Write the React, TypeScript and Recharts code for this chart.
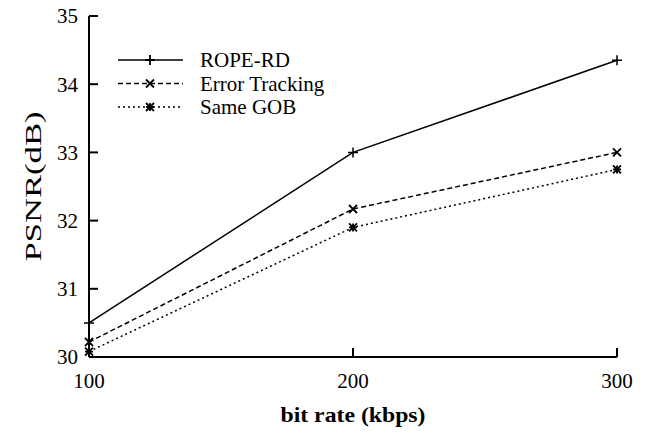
import React from "react";
import { LineChart, Line, XAxis, YAxis, Legend } from "recharts";

const rates = [100, 200, 300];
const ropeRd = [30.5, 33.0, 34.35];
const errorTracking = [30.22, 32.17, 33.0];
const sameGob = [30.08, 31.9, 32.75];
const xTicks = [100, 200, 300];
const yTicks = [30, 31, 32, 33, 34, 35];

const FONT = "Liberation Serif";

const chartData = rates.map((rate, i) => ({
    rate,
    rope: ropeRd[i],
    track: errorTracking[i],
    gob: sameGob[i],
}));

const plusPath = (x: number, y: number, s: number) =>
    `M${x - s},${y}L${x + s},${y}M${x},${y - s}L${x},${y + s}`;
const crossPath = (x: number, y: number, s: number) =>
    `M${x - s},${y - s}L${x + s},${y + s}M${x - s},${y + s}L${x + s},${y - s}`;

const PlusDot = (props: any) => (
    <path key={`p-${props.index}`} d={plusPath(props.cx, props.cy, 5)} stroke="#000" strokeWidth={1.5} fill="none" />
);
const CrossDot = (props: any) => (
    <path key={`c-${props.index}`} d={crossPath(props.cx, props.cy, 4)} stroke="#000" strokeWidth={1.8} fill="none" />
);
const StarDot = (props: any) => (
    <path
        key={`s-${props.index}`}
        d={crossPath(props.cx, props.cy, 4) + plusPath(props.cx, props.cy, 4)}
        stroke="#000"
        strokeWidth={1.8}
        fill="none"
    />
);

const LeftTick = (props: any) => {
    const { x, y, payload } = props;
    return (
        <g>
            <line x1={x + 11} x2={x + 20} y1={y} y2={y} stroke="#000" strokeWidth={2} />
            <text x={x} y={y} dy="0.35em" textAnchor="end" fontFamily={FONT} fontSize={21} fill="#000">
                {payload.value}
            </text>
        </g>
    );
};

const BottomTick = (props: any) => {
    const { x, y, payload } = props;
    return (
        <g>
            <line x1={x} x2={x} y1={y - 16} y2={y - 25} stroke="#000" strokeWidth={2} />
            <text x={x} y={y} dy="0.71em" textAnchor="middle" fontFamily={FONT} fontSize={21} fill="#000">
                {payload.value}
            </text>
        </g>
    );
};

const RightTick = (props: any) => (
    <line x1={props.x} x2={props.x - 9} y1={props.y} y2={props.y} stroke="#000" strokeWidth={2} />
);
const TopTick = (props: any) => (
    <line x1={props.x} x2={props.x} y1={props.y} y2={props.y + 9} stroke="#000" strokeWidth={2} />
);

const legendRows = [
    { name: "ROPE-RD", dash: undefined, mark: plusPath },
    { name: "Error Tracking", dash: "5 3", mark: crossPath },
    { name: "Same GOB", dash: "2 3", mark: (x: number, y: number, s: number) => crossPath(x, y, s) + plusPath(x, y, s) },
];

const renderLegend = () => (
    <svg width={230} height={80}>
        {legendRows.map((row, i) => {
            const y = 12 + i * 23.5;
            return (
                <g key={row.name}>
                    <line x1={6} x2={71} y1={y} y2={y} stroke="#000" strokeWidth={1.5} strokeDasharray={row.dash} />
                    <path d={row.mark(38, y, i === 0 ? 5 : 4)} stroke="#000" strokeWidth={1.8} fill="none" />
                    <text x={88} y={y} dy="0.35em" fontFamily={FONT} fontSize={21} fill="#000">
                        {row.name}
                    </text>
                </g>
            );
        })}
    </svg>
);

const YLabel = (props: any) => {
    const { viewBox } = props;
    const cx = viewBox.x + 33;
    const cy = viewBox.y + viewBox.height / 2;
    return (
        <text
            x={cx}
            y={cy}
            transform={`rotate(-90 ${cx} ${cy})`}
            textAnchor="middle"
            dy="0.35em"
            fontFamily={FONT}
            fontSize={23}
            textLength={150}
            lengthAdjust="spacingAndGlyphs"
            fill="#000"
        >
            PSNR(dB)
        </text>
    );
};

const XLabel = (props: any) => {
    const { viewBox } = props;
    const cx = viewBox.x + viewBox.width / 2;
    return (
        <text
            x={cx}
            y={viewBox.y + 65}
            textAnchor="middle"
            fontFamily={FONT}
            fontSize={22}
            fontWeight="bold"
            textLength={145}
            lengthAdjust="spacingAndGlyphs"
            fill="#000"
        >
            bit rate (kbps)
        </text>
    );
};

export default function App() {
    return (
        <div style={{ position: "absolute", left: 0, top: 0, background: "#fff" }}>
            <LineChart width={646} height={433} data={chartData} margin={{ top: 16, right: 29, left: 0, bottom: 0 }}>
                <XAxis
                    dataKey="rate"
                    type="number"
                    domain={[100, 300]}
                    ticks={xTicks}
                    height={76}
                    tickSize={0}
                    tickMargin={16}
                    tick={<BottomTick />}
                    axisLine={{ stroke: "#000", strokeWidth: 2 }}
                    label={<XLabel />}
                />
                <XAxis
                    xAxisId="top"
                    orientation="top"
                    dataKey="rate"
                    type="number"
                    domain={[100, 300]}
                    ticks={xTicks}
                    height={0}
                    tickSize={0}
                    tickMargin={0}
                    tick={<TopTick />}
                    axisLine={{ stroke: "#000", strokeWidth: 2 }}
                />
                <YAxis
                    type="number"
                    domain={[30, 35]}
                    ticks={yTicks}
                    width={89}
                    tickSize={0}
                    tickMargin={11}
                    tick={<LeftTick />}
                    axisLine={{ stroke: "#000", strokeWidth: 2 }}
                    label={<YLabel />}
                />
                <YAxis
                    yAxisId="right"
                    orientation="right"
                    type="number"
                    domain={[30, 35]}
                    ticks={yTicks}
                    width={0}
                    tickSize={0}
                    tickMargin={0}
                    tick={<RightTick />}
                    axisLine={{ stroke: "#000", strokeWidth: 2 }}
                />
                <Legend
                    layout="vertical"
                    align="center"
                    verticalAlign="middle"
                    content={renderLegend}
                    wrapperStyle={{ position: "absolute", left: 112, top: 48, width: 230, height: 80 }}
                />
                <Line dataKey="rope" name="ROPE-RD" stroke="#000" strokeWidth={1.5} dot={PlusDot} isAnimationActive={false} />
                <Line
                    dataKey="track"
                    name="Error Tracking"
                    stroke="#000"
                    strokeWidth={1.5}
                    strokeDasharray="5 3"
                    dot={CrossDot}
                    isAnimationActive={false}
                />
                <Line
                    dataKey="gob"
                    name="Same GOB"
                    stroke="#000"
                    strokeWidth={1.5}
                    strokeDasharray="2 3"
                    dot={StarDot}
                    isAnimationActive={false}
                />
            </LineChart>
        </div>
    );
}
